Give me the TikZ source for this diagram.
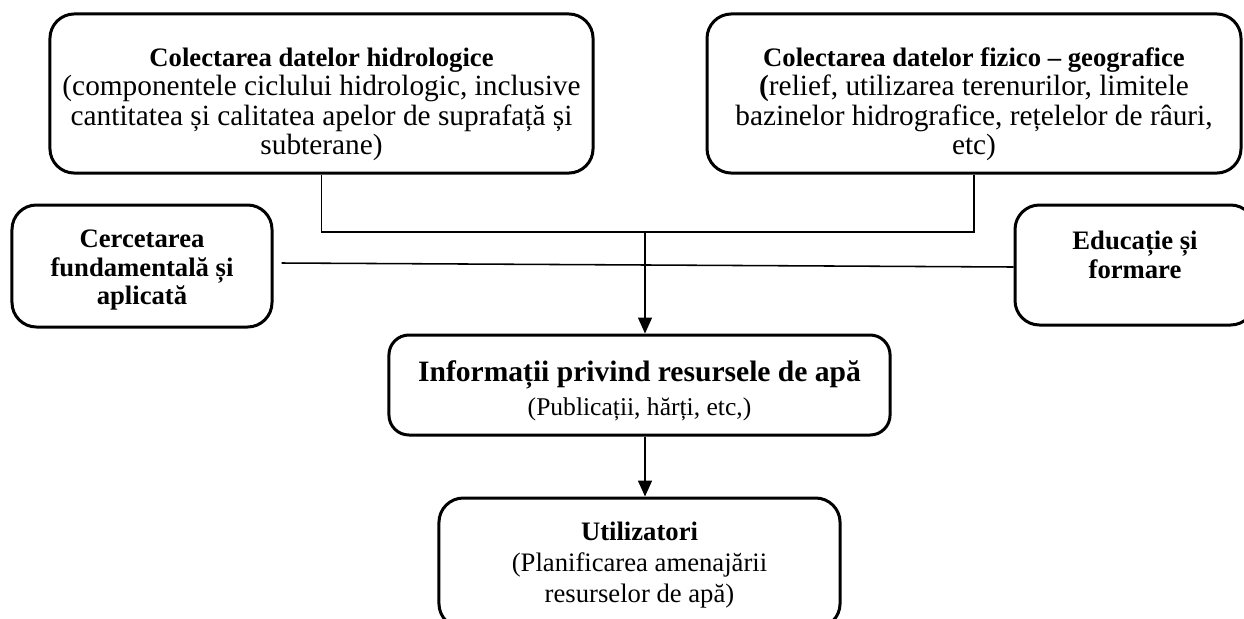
\documentclass[tikz,border=0pt]{standalone}
\usepackage{fontspec}
\setmainfont{Liberation Serif}
\usetikzlibrary{arrows.meta}
\tikzstyle{box} = [rectangle, rounded corners=11pt, draw=black, line width=1.35pt, align=center, inner sep=2pt, font=\fontsize{12}{13}\selectfont]
\tikzstyle{line} = [line width=0.7pt]
\tikzstyle{arrow} = [line width=0.7pt,-{Triangle[length=7.2pt,width=6.3pt]}]
\newcommand{\gap}[1]{\rule{0pt}{#1}}

\begin{document}
\begin{tikzpicture}[x=0.45pt, y=-0.45pt]
        \useasboundingbox (0,0) rectangle (1244,618);
        \clip (0,0) rectangle (1244,618);

        \node(hidro) [box, minimum width=244.4pt, minimum height=71.6pt, font=\fontsize{13.2}{13.2}\selectfont] at (321.5,93.5) {\gap{18pt}{\fontsize{12}{13}\selectfont\bfseries Colectarea datelor hidrologice}\\(componentele ciclului hidrologic, inclusive\\cantitatea și calitatea apelor de suprafață și\\subterane)};
        \node(fizic) [box, minimum width=240.3pt, minimum height=71.6pt, font=\fontsize{13.2}{13.2}\selectfont] at (974,93.5) {\gap{18pt}{\fontsize{12}{13}\selectfont\bfseries Colectarea datelor fizico – geografice}\\\textbf{(}relief, utilizarea terenurilor, limitele\\bazinelor hidrografice, rețelelor de râuri,\\etc)};
        \node(cerc) [box, minimum width=117pt, minimum height=54.9pt, font=\fontsize{12}{12.8}\selectfont\bfseries] at (142,266) {\gap{11.8pt}Cercetarea\\fundamentală și\\aplicată};
        \node(edu) [box, minimum width=108pt, minimum height=54pt, font=\fontsize{12}{12.8}\selectfont\bfseries] at (1135,265) {\gap{11.8pt}Educație și\\formare\\\mbox{}};
        \node(info) [box, rounded corners=9pt, minimum width=225.5pt, minimum height=45pt, font=\fontsize{11.5}{13.3}\selectfont] at (639.5,385) {\gap{14.4pt}{\fontsize{13.3}{15}\selectfont\bfseries Informații privind resursele de apă}\\[2pt](Publicații, hărți, etc,)};
        \node(users) [box, below of=info, node distance=80.1pt, minimum width=180.5pt, minimum height=58.5pt, font=\fontsize{12}{14}\selectfont] {\gap{10.5pt}\textbf{Utilizatori}\\(Planificarea amenajării\\resurselor de apă)};

        \coordinate(junc) at (645,232);

        \draw[line] (hidro.south) -- (hidro.south |- junc) -- (fizic.south |- junc) -- (fizic.south);
        \draw[arrow] (junc) -- (junc |- info.north);
        \draw[line] ([xshift=3.6pt, yshift=1.35pt]cerc.east) -- ([yshift=-0.9pt]edu.west);
        \draw[arrow] (junc |- info.south) -- (junc |- users.north);
    \end{tikzpicture}
\end{document}
